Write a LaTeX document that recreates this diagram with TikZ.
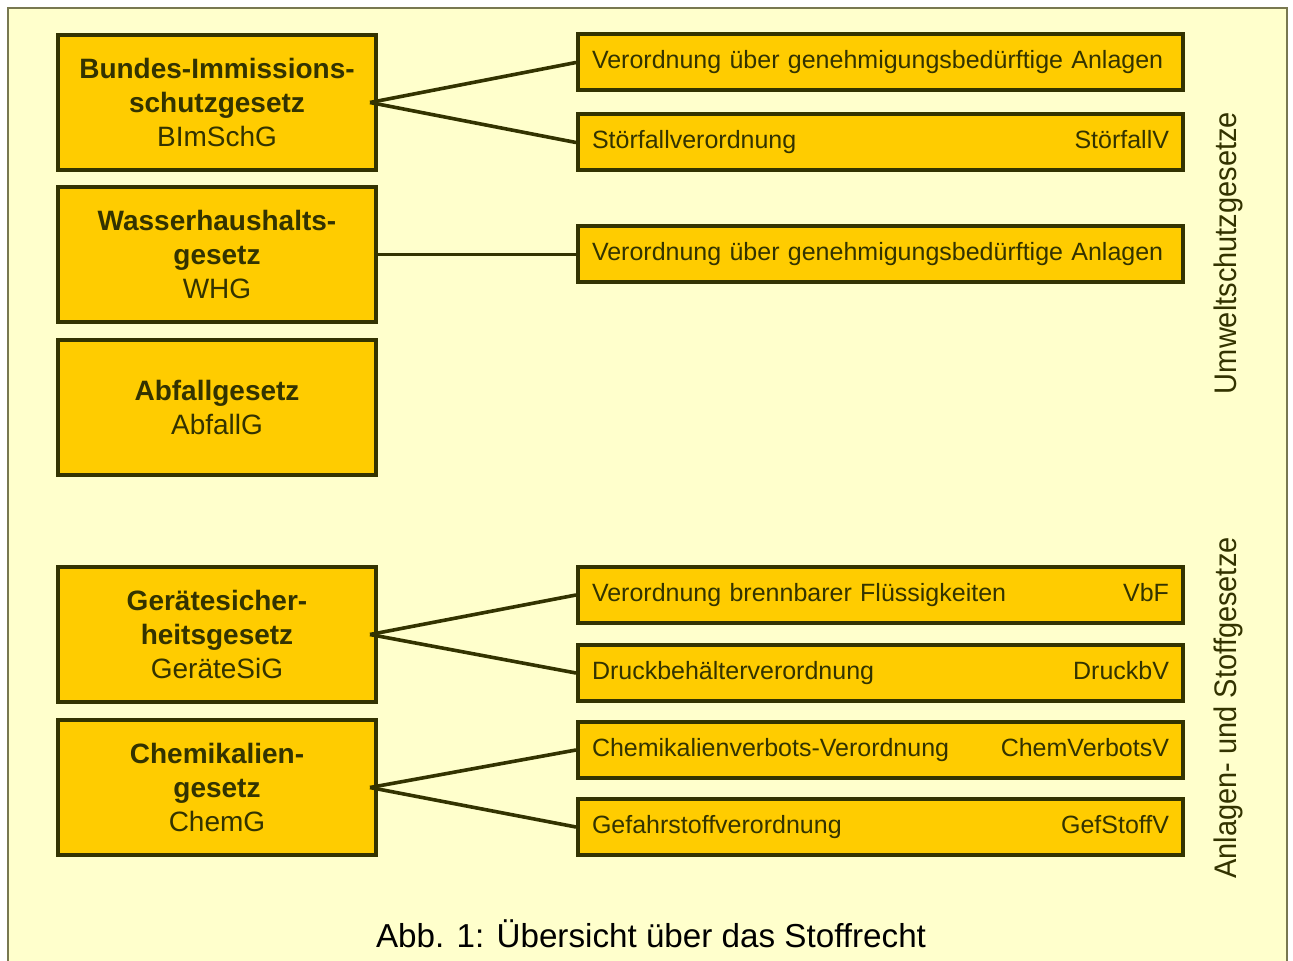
\documentclass[tikz,border=0pt]{standalone}
\usepackage{fontspec}
\setmainfont{Liberation Sans}
\usetikzlibrary{positioning}

\definecolor{bgyellow}{RGB}{255,255,204}
\definecolor{boxyellow}{RGB}{255,204,0}
\definecolor{olive}{RGB}{51,51,0}
\definecolor{frameline}{RGB}{120,120,80}

\begin{document}
\begin{tikzpicture}[
    x=0.5pt,y=-0.5pt,
    gesetz/.style={rectangle,draw=olive,line width=2pt,fill=boxyellow,minimum width=159pt,minimum height=67.5pt,align=center,text=olive,font=\fontsize{14}{17}\selectfont},
    vo/.style={rectangle,draw=olive,line width=2pt,fill=boxyellow,minimum height=28pt,text width=288.5pt,inner xsep=7pt,align=left,text=olive,font=\fontsize{12.5}{15}\selectfont},
    gruppe/.style={rotate=90,text=olive,font=\fontsize{15.6}{18}\selectfont},
    verb/.style={draw=olive,line width=1.8pt}
    ]
    \useasboundingbox (0,0) rectangle (1293,961);
    % background
    \fill[white] (0,0) rectangle (1293,961);
    \fill[bgyellow] (8,8) rectangle (1287,961);
    \draw[frameline,line width=1pt] (8,961) -- (8,8) -- (1287,8) -- (1287,961);

    % Umweltschutzgesetze
    \node (bimsch) [gesetz] at (217,102.5) {\textbf{Bundes-Immissions-}\\\textbf{schutzgesetz}\\BImSchG};
    \node (whg) [gesetz,below=6.5pt of bimsch] {\textbf{Wasserhaushalts-}\\\textbf{gesetz}\\WHG};
    \node (abfall) [gesetz,below=7pt of whg] {\textbf{Abfallgesetz}\\AbfallG};
    \node (vo1) [vo] at (880.5,62.5) {\mbox{Verordnung über genehmigungsbedürftige Anlagen}};
    \node (vo2) [vo,below=10pt of vo1] {Störfallverordnung\hfill StörfallV};
    \node (vo3) [vo,right=99pt of whg] {\mbox{Verordnung über genehmigungsbedürftige Anlagen}};

    % Anlagen- und Stoffgesetze
    \node (geraete) [gesetz] at (217,634.5) {\textbf{Gerätesicher-}\\\textbf{heitsgesetz}\\GeräteSiG};
    \node (chem) [gesetz,below=7pt of geraete] {\textbf{Chemikalien-}\\\textbf{gesetz}\\ChemG};
    \node (vbf) [vo] at (880.5,595) {Verordnung brennbarer Flüssigkeiten\hfill VbF};
    \node (druck) [vo,below=9pt of vbf] {Druckbehälterverordnung\hfill DruckbV};
    \node (verbot) [vo,below=8.5pt of druck] {Chemikalienverbots-Verordnung\hfill ChemVerbotsV};
    \node (gefahr) [vo,below=8.5pt of verbot] {Gefahrstoffverordnung\hfill GefStoffV};

    \coordinate (f1) at ([xshift=-4pt]bimsch.east);
    \coordinate (f2) at ([xshift=-4pt]geraete.east);
    \coordinate (f3) at ([xshift=-4pt]chem.east);
    \draw[verb] (f1) -- (vo1.west);
    \draw[verb] (f1) -- (vo2.west);
    \draw[verb] (whg.east) -- (vo3.west);
    \draw[verb] (f2) -- (vbf.west);
    \draw[verb] (f2) -- (druck.west);
    \draw[verb] (f3) -- (verbot.west);
    \draw[verb] (f3) -- (gefahr.west);

    \node (umwelt) [gruppe] at (1228,253) {\scalebox{0.93}[1]{Umweltschutzgesetze}};
    \node (anlagen) [gruppe] at (1228,708) {\scalebox{0.93}[1]{Anlagen- und Stoffgesetze}};
    \node (titel) at (651,934) [font=\fontsize{16.6}{20}\selectfont] {Abb. 1: Übersicht über das Stoffrecht};
\end{tikzpicture}
\end{document}
